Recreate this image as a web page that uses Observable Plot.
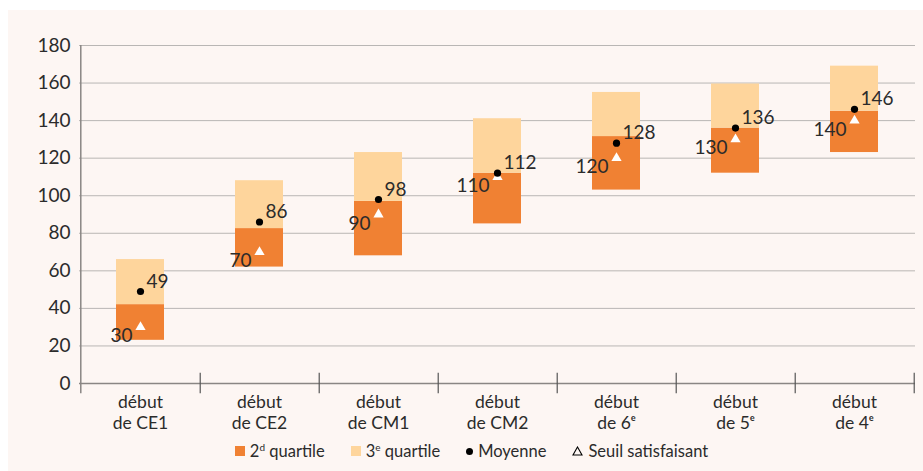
<!DOCTYPE html>
<html>
<head>
<meta charset="utf-8">
<script src="https://cdn.jsdelivr.net/npm/d3@7"></script>
<script src="https://cdn.jsdelivr.net/npm/@observablehq/plot@0.6"></script>
<style>
  html, body { margin: 0; padding: 0; background: #ffffff; }
  #panel { position: absolute; left: 8px; top: 10px; width: 915px; height: 461px; background: #fdf6f3; font-family: Lato, sans-serif; color: #2b2b2b; }
  #legend { display: flex; justify-content: center; align-items: center; gap: 26px; font-size: 16.5px; margin-top: 6px; padding-left: 12px; }
  #legend .item { display: flex; align-items: center; gap: 5px; }
  #legend .sw { display: inline-block; width: 10px; height: 10px; }
  #legend sup { font-size: 10px; vertical-align: 6px; line-height: 0; }
</style>
</head>
<body>
<div id="panel"><div id="chart"></div><div id="legend"></div></div>
<script>
const categories = ["début\nde CE1", "début\nde CE2", "début\nde CM1", "début\nde CM2", "début\nde 6ᵉ", "début\nde 5ᵉ", "début\nde 4ᵉ"];
const q1 = [23, 62, 68, 85, 103, 112, 123];
const median = [42, 82.5, 97, 112, 131.5, 136, 145];
const q3 = [66, 108, 123, 141, 155, 159.5, 169];
const mean = [49, 86, 98, 112, 128, 136, 146];
const seuil = [30, 70, 90, 110, 120, 130, 140];
const yTicks = [0, 20, 40, 60, 80, 100, 120, 140, 160, 180];

const colorQ2 = "#f08133";
const colorQ3 = "#fed59c";
const textColor = "#2b2b2b";

const rows = categories.map((c, i) => ({cat: c, q1: q1[i], med: median[i], q3: q3[i], mean: mean[i], seuil: seuil[i]}));

const width = 915, marginLeft = 71, marginRight = 8;
const step = (width - marginLeft - marginRight) / categories.length;

const plot = Plot.plot({
  width, height: 425,
  marginLeft, marginRight, marginTop: 35, marginBottom: 52,
  style: {background: "transparent", fontFamily: "Lato, sans-serif", color: textColor},
  x: {domain: categories, paddingInner: 0.6, paddingOuter: 0.3, label: null},
  y: {domain: [0, 180], label: null},
  marks: [
    Plot.gridY(yTicks.filter(d => d > 0), {stroke: "#b9b6b4", strokeOpacity: 1, strokeWidth: 1}),
    Plot.barY(rows, {x: "cat", y1: "q1", y2: "med", fill: colorQ2}),
    Plot.barY(rows, {x: "cat", y1: "med", y2: "q3", fill: colorQ3}),
    Plot.ruleY([0], {stroke: "#8a8684", strokeWidth: 1.5}),
    Plot.ruleX([categories[0]], {dx: -step / 2, y1: -5.5, y2: 180, stroke: "#8a8684", strokeWidth: 1.5, clip: false}),
    Plot.ruleX(categories, {dx: step / 2, y1: -5.5, y2: 5.5, stroke: "#555", strokeWidth: 1.2, clip: false}),
    Plot.axisY({ticks: yTicks, tickSize: 0, tickPadding: 9, fontSize: 19, fill: textColor, label: null}),
    Plot.axisX({tickSize: 0, tickPadding: 12.5, fontSize: 17.5, fill: textColor, label: null, tickFormat: d => d.split("\n")[0]}),
    Plot.axisX({tickSize: 0, tickPadding: 33.5, fontSize: 17.5, fill: textColor, label: null, tickFormat: d => d.split("\n")[1]}),
    Plot.dot(rows, {x: "cat", y: "seuil", symbol: "triangle", r: 3.8, fill: "white", stroke: null}),
    Plot.dot(rows, {x: "cat", y: "mean", r: 3.6, fill: "black", stroke: null}),
    Plot.text(rows, {x: "cat", y: "seuil", text: d => String(d.seuil), textAnchor: "end", dx: -8, dy: 9, fontSize: 19, fill: textColor}),
    Plot.text(rows, {x: "cat", y: "mean", text: d => String(d.mean), textAnchor: "start", dx: 6, dy: -10, fontSize: 19, fill: textColor})
  ]
});
document.getElementById("chart").appendChild(plot);

const legendItems = [
  {html: '<span class="sw" style="background:' + colorQ2 + '"></span><span>2<sup>d</sup> quartile</span>'},
  {html: '<span class="sw" style="background:' + colorQ3 + '"></span><span>3<sup>e</sup> quartile</span>'},
  {html: '<span style="display:inline-block;width:7px;height:7px;border-radius:50%;background:#000"></span><span>Moyenne</span>'},
  {html: '<svg width="11" height="10"><path d="M5.5 1 L10 9 L1 9 Z" fill="none" stroke="#000" stroke-width="1.1"/></svg><span>Seuil satisfaisant</span>'}
];
const leg = document.getElementById("legend");
legendItems.forEach(it => {
  const d = document.createElement("div");
  d.className = "item";
  d.innerHTML = it.html;
  leg.appendChild(d);
});
</script>
</body>
</html>
